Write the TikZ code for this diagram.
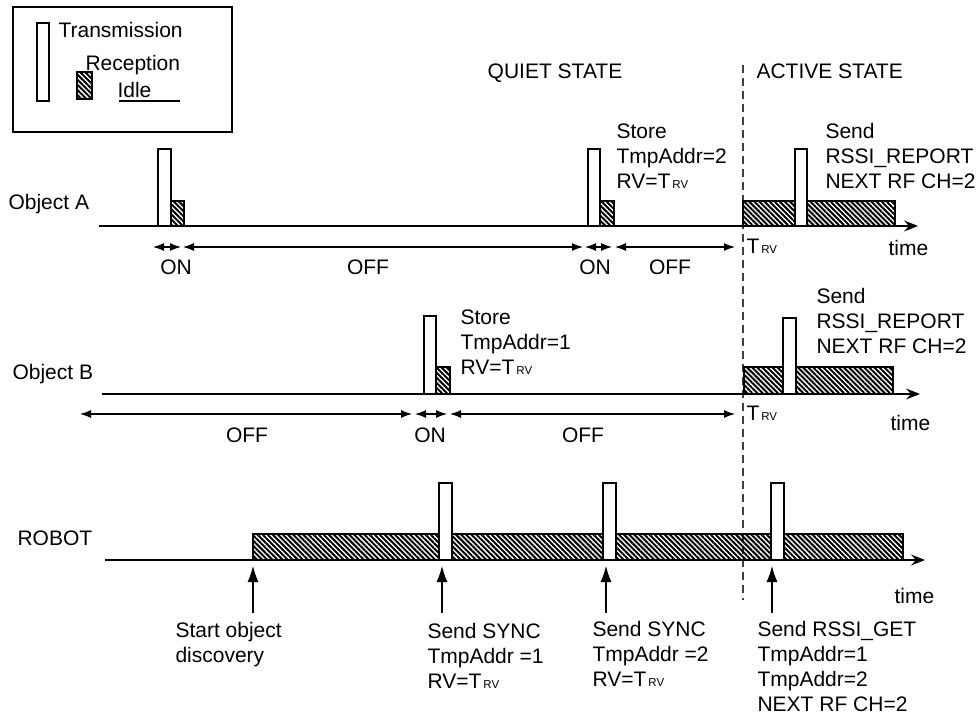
\documentclass[tikz,border=0pt]{standalone}
\usepackage{fontspec}
\setmainfont{Liberation Sans}
\usetikzlibrary{arrows.meta,patterns.meta}

\newcommand{\Trv}{T\kern2pt{\fontsize{11.5}{12}\selectfont RV}}

\begin{document}
\begin{tikzpicture}[x=1pt, y=-1pt, line width=1.1pt,
  every node/.style={font=\fontsize{21}{25}\selectfont, inner sep=0pt},
  tx/.style={draw, fill=white},
  rx/.style={draw, pattern={Lines[angle=-45, distance=3.6pt, line width=2pt]}},
  axis/.style={-{Stealth[length=14pt, width=11pt, inset=5pt]}, line width=1.3pt},
  dur/.style={{Latex[length=11pt, width=8pt]}-{Latex[length=11pt, width=8pt]}},
  evt/.style={-{Latex[length=16pt, width=11pt]}}]
  \useasboundingbox (0,0) rectangle (980,715);

  % legend
  \draw (13,7) rectangle (232,132);
  \draw[tx] (37,23) rectangle (49,101);
  \draw[rx] (77,72) rectangle (92,99);
  \node[anchor=base west] (ltx) at (58,37) {Transmission};
  \node[anchor=base west] (lrx) at (85,70) {Reception};
  \node[anchor=base west] (lidle) at (117,97) {Idle};
  \draw (119,101) -- (180,101);

  % states
  \node[anchor=base] (quiet) at (555,78) {QUIET STATE};
  \node[anchor=base west] (active) at (756,78) {ACTIVE STATE};
  \draw[dash pattern=on 8pt off 5pt, black!75] (743,65) -- (743,600);

  % object A
  \node[anchor=base west] (objA) at (8,209) {Object A};
  \draw[axis] (99,226) -- (918,226);
  \draw[tx] (158,149) rectangle (171,226);
  \draw[rx] (171,201) rectangle (184,226);
  \draw[tx] (588,149) rectangle (600,226);
  \draw[rx] (600,201) rectangle (614,226);
  \draw[rx] (743,201) rectangle (895,226);
  \draw[tx] (795,149) rectangle (807,226);
  \node[anchor=north west, align=left] (storeA) at (616,123) {Store\\TmpAddr=2\\RV=\Trv};
  \node[anchor=north west, align=left] (sendA) at (825,123) {Send\\RSSI\_REPORT\\NEXT RF CH=2};
  \foreach \a/\b/\lab/\c [count=\i] in {153/181/ON/176, 183/583/OFF/368, 585/612/ON/595, 615/735/OFF/670} {
    \draw[dur] (\a,247) -- (\b,247);
    \node[anchor=base] (durA\i) at (\c,274) {\lab};
  }
  \node[anchor=base west] (trvA) at (746,253) {\Trv};
  \node[anchor=base west] (timeA) at (888,255) {time};

  % object B
  \node[anchor=base west] (objB) at (12,379) {Object B};
  \draw[axis] (102,394) -- (920,394);
  \draw[tx] (424,316) rectangle (436,394);
  \draw[rx] (436,367) rectangle (450,394);
  \draw[rx] (744,367) rectangle (893,394);
  \draw[tx] (783,318) rectangle (796,394);
  \node[anchor=north west, align=left] (storeB) at (460,309) {Store\\TmpAddr=1\\RV=\Trv};
  \node[anchor=north west, align=left] (sendB) at (816,288) {Send\\RSSI\_REPORT\\NEXT RF CH=2};
  \foreach \a/\b/\lab/\c [count=\i] in {80/412/OFF/247, 415/447/ON/430, 450/735/OFF/583} {
    \draw[dur] (\a,414) -- (\b,414);
    \node[anchor=base] (durB\i) at (\c,442) {\lab};
  }
  \node[anchor=base west] (trvB) at (746,420) {\Trv};
  \node[anchor=base west] (timeB) at (890,430) {time};

  % robot
  \node[anchor=base west] (robot) at (17,545) {ROBOT};
  \draw[axis] (105,560) -- (925,560);
  \draw[rx] (253,534) rectangle (903,560);
  \foreach \x in {439,603,771}
    \draw[tx] (\x,483) rectangle ++(13,77);
  \node[anchor=base west] (timeR) at (894,603) {time};
  \node[anchor=north west, align=left] (sod) at (175,622) {Start object\\discovery};
  \node[anchor=north west, align=left] (sync1) at (427,623) {Send SYNC\\TmpAddr =1\\RV=\Trv};
  \node[anchor=north west, align=left] (sync2) at (592,621) {Send SYNC\\TmpAddr =2\\RV=\Trv};
  \node[anchor=north west, align=left] (get) at (757,621) {Send RSSI\_GET\\TmpAddr=1\\TmpAddr=2\\NEXT RF CH=2};
  \foreach \x/\n in {253/sod, 442/sync1, 606/sync2, 772/get} {
    \coordinate (\n tail) at (\x,613);
    \coordinate (\n tip) at (\x,566);
    \draw[evt] (\n tail) -- (\n tip);
  }
\end{tikzpicture}
\end{document}
